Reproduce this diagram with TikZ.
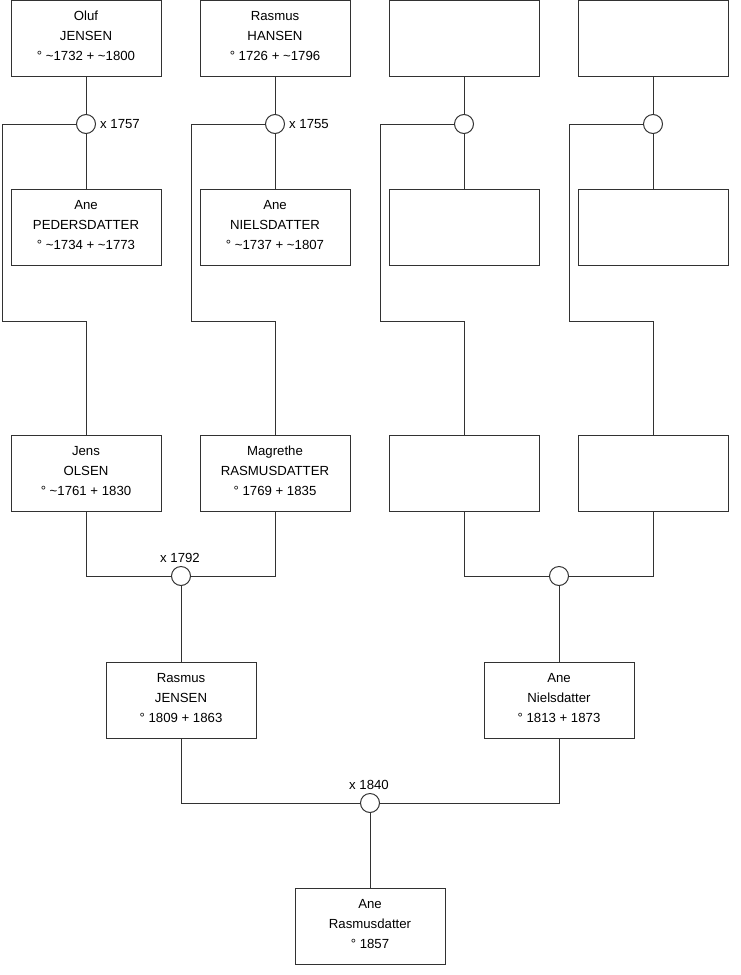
\documentclass[tikz,border=0pt]{standalone}
\usepackage{fontspec}
\setmainfont{Liberation Sans}
\newcommand\apx{\textasciitilde}
\definecolor{linec}{RGB}{50,50,50}
\begin{document}
\begin{tikzpicture}[x=1pt,y=-1pt,
  person/.style={draw=linec, line width=1pt, fill=white, minimum width=150pt, minimum height=76pt, inner sep=0pt, align=center, text depth=5pt, font=\fontsize{13.2}{20}\selectfont},
  marr/.style={circle, draw=linec, line width=1pt, fill=white, minimum size=19pt, inner sep=0pt},
  lbl/.style={font=\fontsize{13.2}{16}\selectfont, inner sep=0pt},
  conn/.style={draw=linec, line width=1pt}]
\useasboundingbox (0,0) rectangle (740,975);
% row 1
\node[person] (p1) at (86,38.5) {Oluf\\JENSEN\\° \apx1732 + \apx1800};
\node[person] (p2) at (275,38.5) {Rasmus\\HANSEN\\° 1726 + \apx1796};
\node[person] (p3) at (464,38.5) {};
\node[person] (p4) at (653,38.5) {};
% row 2
\node[person] (q1) at (86,227) {Ane\\PEDERSDATTER\\° \apx1734 + \apx1773};
\node[person] (q2) at (275,227) {Ane\\NIELSDATTER\\° \apx1737 + \apx1807};
\node[person] (q3) at (464,227) {};
\node[person] (q4) at (653,227) {};
% marriages row 1
\node[marr] (m1) at (86,124) {};
\node[marr] (m2) at (275,124) {};
\node[marr] (m3) at (464,124) {};
\node[marr] (m4) at (653,124) {};
\node[lbl, anchor=west] (t1) at (100,124) {x 1757};
\node[lbl, anchor=west] (t2) at (289,124) {x 1755};
% row 3
\node[person] (r1) at (86,473) {Jens\\OLSEN\\° \apx1761 + 1830};
\node[person] (r2) at (275,473) {Magrethe\\RASMUSDATTER\\° 1769 + 1835};
\node[person] (r3) at (464,473) {};
\node[person] (r4) at (653,473) {};
% marriages row 2
\node[marr] (n1) at (181,576) {};
\node[marr] (n2) at (559,576) {};
\node[lbl] (u1) at (180,558) {x 1792};
% row 4
\node[person] (s1) at (181,700) {Rasmus\\JENSEN\\° 1809 + 1863};
\node[person] (s2) at (559,700) {Ane\\Nielsdatter\\° 1813 + 1873};
% final marriage
\node[marr] (o1) at (370,803) {};
\node[lbl] (v1) at (369,785) {x 1840};
\node[person] (z1) at (370,926) {Ane\\Rasmusdatter\\° 1857};
% connector coordinates
\foreach \i/\lx/\cx in {1/2/86, 2/191/275, 3/380/464, 4/569/653}{
  \coordinate (ka\i) at (\lx,124);
  \coordinate (kb\i) at (\lx,321);
  \coordinate (kc\i) at (\cx,321);
}
\coordinate (ea1) at (86,576);
\coordinate (ea2) at (275,576);
\coordinate (ea3) at (464,576);
\coordinate (ea4) at (653,576);
\coordinate (fa1) at (181,803);
\coordinate (fa2) at (559,803);
% connectors
\foreach \i in {1,2,3,4}{
  \draw[conn] (p\i) -- (m\i);
  \draw[conn] (m\i) -- (q\i);
  \draw[conn] (m\i) -- (ka\i) -- (kb\i) -- (kc\i) -- (r\i);
}
\draw[conn] (r1) -- (ea1) -- (n1);
\draw[conn] (r2) -- (ea2) -- (n1);
\draw[conn] (r3) -- (ea3) -- (n2);
\draw[conn] (r4) -- (ea4) -- (n2);
\draw[conn] (n1) -- (s1);
\draw[conn] (n2) -- (s2);
\draw[conn] (s1) -- (fa1) -- (o1);
\draw[conn] (s2) -- (fa2) -- (o1);
\draw[conn] (o1) -- (z1);
\end{tikzpicture}
\end{document}
